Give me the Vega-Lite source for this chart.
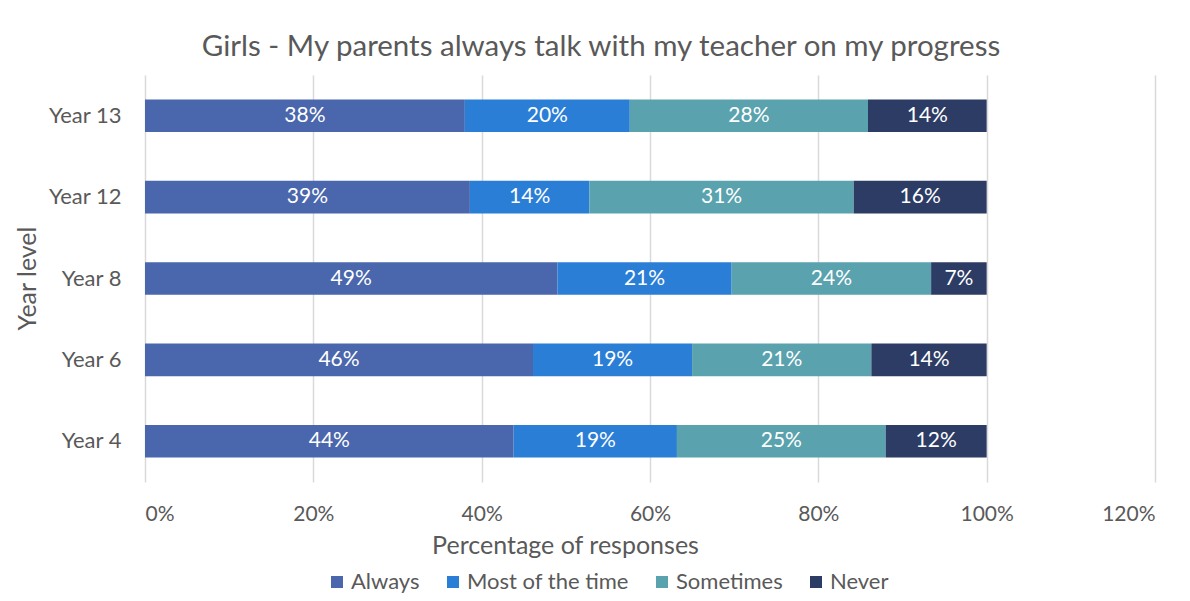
{
  "$schema": "https://vega.github.io/schema/vega-lite/v6.json",
  "autosize": {"type": "none"},
  "width": 1010,
  "height": 407,
  "padding": {"left": 145, "top": 75, "right": 35, "bottom": 119},
  "background": "white",
  "config": {
    "font": "Lato",
    "view": {"stroke": null},
    "axis": {"labelColor": "#595959", "titleColor": "#595959", "labelFont": "Lato", "titleFont": "Lato", "titleFontWeight": "normal"},
    "legend": {"labelColor": "#595959", "labelFont": "Lato"}
  },
  "title": {
    "text": "Girls - My parents always talk with my teacher on my progress",
    "fontSize": 29.5,
    "font": "Lato",
    "fontWeight": "normal",
    "color": "#595959",
    "anchor": "middle",
    "dx": -49,
    "offset": 13
  },
  "data": {
    "values": [
      {"year": "Year 13", "response": "Always", "value": 0.380},
      {"year": "Year 13", "response": "Most of the time", "value": 0.196},
      {"year": "Year 13", "response": "Sometimes", "value": 0.283},
      {"year": "Year 13", "response": "Never", "value": 0.141},
      {"year": "Year 12", "response": "Always", "value": 0.386},
      {"year": "Year 12", "response": "Most of the time", "value": 0.142},
      {"year": "Year 12", "response": "Sometimes", "value": 0.314},
      {"year": "Year 12", "response": "Never", "value": 0.158},
      {"year": "Year 8", "response": "Always", "value": 0.490},
      {"year": "Year 8", "response": "Most of the time", "value": 0.207},
      {"year": "Year 8", "response": "Sometimes", "value": 0.237},
      {"year": "Year 8", "response": "Never", "value": 0.066},
      {"year": "Year 6", "response": "Always", "value": 0.461},
      {"year": "Year 6", "response": "Most of the time", "value": 0.189},
      {"year": "Year 6", "response": "Sometimes", "value": 0.213},
      {"year": "Year 6", "response": "Never", "value": 0.137},
      {"year": "Year 4", "response": "Always", "value": 0.438},
      {"year": "Year 4", "response": "Most of the time", "value": 0.194},
      {"year": "Year 4", "response": "Sometimes", "value": 0.248},
      {"year": "Year 4", "response": "Never", "value": 0.120}
    ]
  },
  "transform": [
    {"calculate": "indexof(['Always','Most of the time','Sometimes','Never'], datum.response)", "as": "ord"},
    {"stack": "value", "groupby": ["year"], "sort": [{"field": "ord", "order": "ascending"}], "as": ["v0", "v1"]},
    {"calculate": "(datum.v0 + datum.v1) / 2", "as": "mid"}
  ],
  "encoding": {
    "y": {
      "field": "year",
      "type": "nominal",
      "sort": ["Year 13", "Year 12", "Year 8", "Year 6", "Year 4"],
      "scale": {"paddingInner": 0.6, "paddingOuter": 0.3},
      "axis": {
        "title": "Year level",
        "titleFontSize": 25,
        "titleAngle": -90,
        "titleX": -118,
        "titleY": 203,
        "titleAlign": "center",
        "titleBaseline": "middle",
        "labelFontSize": 22,
        "labelPadding": 24,
        "ticks": false,
        "domain": false,
        "grid": false
      }
    }
  },
  "layer": [
    {
      "mark": {"type": "bar"},
      "encoding": {
        "x": {
          "field": "v0",
          "type": "quantitative",
          "scale": {"domain": [0, 1.2], "nice": false},
          "axis": {
            "title": "Percentage of responses",
            "format": ".0%",
            "values": [0, 0.2, 0.4, 0.6, 0.8, 1.0, 1.2],
            "labelFontSize": 21,
            "labelPadding": 21,
            "ticks": false,
            "domain": false,
            "grid": true,
            "gridColor": "#d9d9d9",
            "gridWidth": 1.5,
            "titleFontSize": 25,
            "titleX": 420,
            "titleY": 63,
            "titleAlign": "center",
            "titleBaseline": "middle"
          }
        },
        "x2": {"field": "v1"},
        "color": {
          "field": "response",
          "type": "nominal",
          "sort": ["Always", "Most of the time", "Sometimes", "Never"],
          "scale": {
            "domain": ["Always", "Most of the time", "Sometimes", "Never"],
            "range": ["#4a66ac", "#2a7ed6", "#5aa2ae", "#2c3c65"]
          },
          "legend": {
            "title": null,
            "orient": "none",
            "direction": "horizontal",
            "legendX": 181,
            "legendY": 496,
            "labelFontSize": 22,
            "labelLimit": 400,
            "symbolType": "square",
            "symbolSize": 144,
            "symbolStrokeWidth": 0,
            "labelOffset": 3,
            "columnPadding": 22
          }
        }
      }
    },
    {
      "mark": {"type": "text", "color": "white", "fontSize": 21, "font": "Lato", "baseline": "middle", "align": "center"},
      "encoding": {
        "x": {"field": "mid", "type": "quantitative"},
        "text": {"field": "value", "type": "quantitative", "format": ".0%"}
      }
    }
  ]
}
